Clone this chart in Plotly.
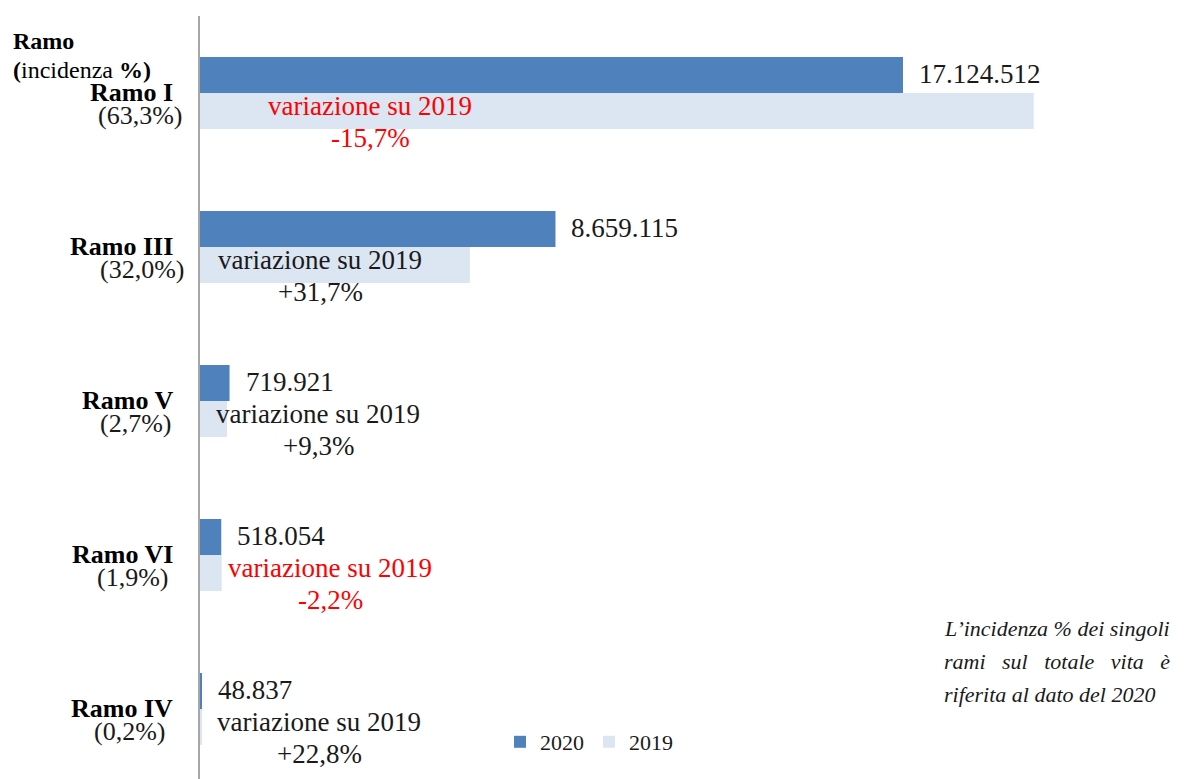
import plotly.graph_objects as go

# ---- data ----
categories = ["Ramo I", "Ramo III", "Ramo V", "Ramo VI", "Ramo IV"]
values_2020 = [17124512, 8659115, 719921, 518054, 48837]
values_2019 = [20310000, 6575000, 658700, 529700, 39770]
variation_pct = [-15.7, 31.7, 9.3, -2.2, 22.8]
share_pct = [63.3, 32.0, 2.7, 1.9, 0.2]

# ---- layout constants ----
W, H = 1184, 779
ML, MR, MT, MB = 200, 0, 16, 0
PW, PH = W - ML - MR, H - MT - MB
FONT = "Liberation Serif"
C2020 = "#4f81bd"
C2019 = "#dce6f2"

def px_x(px):
    return (px - ML) / PW

def px_y(py):
    return 1 - (py - MT) / PH

def it_num(v):
    return f"{v:,}".replace(",", ".")

def it_pct(p, sign=False):
    s = f"{p:+.1f}%" if sign else f"{p:.1f}%"
    return s.replace(".", ",")

fig = go.Figure()
fig.add_trace(go.Bar(y=categories, x=values_2020, orientation="h", name="2020",
                     marker=dict(color=C2020, line=dict(width=0))))
fig.add_trace(go.Bar(y=categories, x=values_2019, orientation="h", name="2019",
                     marker=dict(color=C2019, line=dict(width=0))))

ann = []
# value labels of 2020 bars
for c, v in zip(categories, values_2020):
    ann.append(dict(x=v, y=c, xref="x", yref="y", text=it_num(v), showarrow=False,
                    xanchor="left", yanchor="middle", xshift=14, yshift=19,
                    font=dict(family=FONT, size=27, color="#1a1a1a")))

# variation labels
var_center_px = [370, 320, 318, 330, 319]
for c, p, cx in zip(categories, variation_pct, var_center_px):
    col = "#ff0000" if p < 0 else "#1a1a1a"
    ann.append(dict(x=px_x(cx), y=c, xref="paper", yref="y", text="variazione su 2019",
                    showarrow=False, xanchor="center", yanchor="middle", yshift=-13,
                    font=dict(family=FONT, size=27, color=col)))
    ann.append(dict(x=px_x(cx), y=c, xref="paper", yref="y", text=it_pct(p, sign=True),
                    showarrow=False, xanchor="center", yanchor="middle", yshift=-45,
                    font=dict(family=FONT, size=27, color=col)))

# category labels
paren_right_px = [184, 186, 173, 170, 167]
for c, s, pr in zip(categories, share_pct, paren_right_px):
    ann.append(dict(x=px_x(175), y=c, xref="paper", yref="y", text=f"<b>{c}</b>",
                    showarrow=False, xanchor="right", yanchor="middle", yshift=1,
                    font=dict(family=FONT, size=26, color="#000000")))
    ann.append(dict(x=px_x(pr), y=c, xref="paper", yref="y", text=f"({it_pct(s)})",
                    showarrow=False, xanchor="right", yanchor="middle", yshift=-22,
                    font=dict(family=FONT, size=26, color="#1a1a1a")))

# header
ann.append(dict(x=px_x(11), y=px_y(41), xref="paper", yref="paper", text="<b>Ramo</b>",
                showarrow=False, xanchor="left", yanchor="middle",
                font=dict(family=FONT, size=24, color="#000000")))
ann.append(dict(x=px_x(11), y=px_y(70), xref="paper", yref="paper",
                text="<b>(</b>incidenza <b>%)</b>",
                showarrow=False, xanchor="left", yanchor="middle",
                font=dict(family=FONT, size=24, color="#000000")))

# note
nb = "\u00a0"
note_lines = [
    "L’incidenza % dei singoli",
    f"rami{nb}{nb}{nb}sul{nb}{nb}{nb}totale{nb}{nb}{nb}vita{nb}{nb}{nb}è",
    "riferita al dato del 2020",
]
for i, t in enumerate(note_lines):
    ann.append(dict(x=px_x(942), y=px_y(628 + 33 * i), xref="paper", yref="paper",
                    text=f"<i>{t}</i>", showarrow=False, xanchor="left", yanchor="middle",
                    font=dict(family=FONT, size=22, color="#1a1a1a")))

fig.update_layout(
    width=W, height=H,
    margin=dict(l=ML, r=MR, t=MT, b=MB, pad=0, autoexpand=False),
    paper_bgcolor="white", plot_bgcolor="white",
    barmode="group", bargap=0.5325, bargroupgap=0,
    font=dict(family=FONT, size=21, color="#1a1a1a"),
    xaxis=dict(range=[0, 23970000], visible=False, showgrid=False, zeroline=False,
               fixedrange=True),
    yaxis=dict(range=[4.4545, -0.5], showline=True, linecolor="#a6a6a6", linewidth=2,
               showticklabels=False, ticks="", showgrid=False, zeroline=False,
               fixedrange=True),
    showlegend=True,
    legend=dict(orientation="h", x=px_x(500), y=px_y(742), xanchor="left",
                yanchor="middle", font=dict(family=FONT, size=22, color="#1a1a1a"),
                bgcolor="rgba(0,0,0,0)", itemwidth=30, tracegroupgap=0),
    annotations=ann,
)

fig.write_html("out.html", config={"displayModeBar": False},
               post_script="document.body.style.margin='0';document.body.style.overflow='hidden';")
